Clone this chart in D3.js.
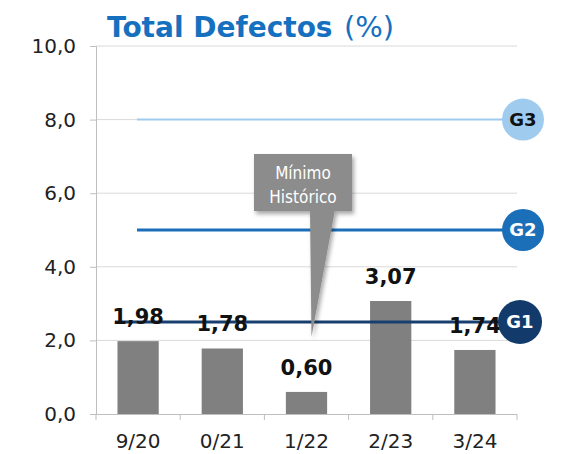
<!DOCTYPE html>
<html>
<head>
<meta charset="utf-8">
<script src="https://cdn.jsdelivr.net/npm/d3@7"></script>
<style>
  body { margin: 0; background: #fff; }
  svg { display: block; font-family: "DejaVu Sans", Verdana, sans-serif; }
</style>
</head>
<body>
<div id="chart"></div>
<script>
// chart values
var categories = ["9/20", "0/21", "1/22", "2/23", "3/24"];
var values = [1.98, 1.78, 0.60, 3.07, 1.74];
var yTicks = [0, 2, 4, 6, 8, 10];
var goalNames = ["G1", "G2", "G3"];
var goalValues = [2.5, 5.0, 8.0];
var calloutLines = ["Mínimo", "Histórico"];

var width = 561, height = 454;
var svg = d3.select('#chart').append('svg')
    .attr('width', width)
    .attr('height', height);

var locale = d3.formatLocale({decimal: ",", thousands: ".", grouping: [3], currency: ["", ""]});
var f1 = locale.format(".1f"), f2 = locale.format(".2f");

var x = d3.scaleBand().domain(categories).range([96, 517]).paddingInner(0.51).paddingOuter(0.255);
var y = d3.scaleLinear().domain([0, 10]).range([414, 46]);

// title
svg.append('text').attr('x', 107).attr('y', 37)
    .attr('font-size', 28).attr('font-weight', 'bold').attr('fill', '#1570c0')
    .text('Total Defectos');
svg.append('text').attr('x', 344).attr('y', 37)
    .attr('font-size', 29).attr('fill', '#1570c0')
    .text('(%)');

// gridlines
svg.append('g').selectAll('line').data(yTicks.slice(1)).enter().append('line')
    .attr('x1', 96).attr('x2', 517)
    .attr('y1', d => y(d)).attr('y2', d => y(d))
    .attr('stroke', '#d9d9d9').attr('stroke-width', 1);

// y axis
var yAxis = svg.append('g').attr('transform', 'translate(96,0)')
    .call(d3.axisLeft(y).tickValues(yTicks).tickFormat(f1).tickSize(6).tickPadding(14));
yAxis.select('.domain').attr('stroke', '#bfbfbf');
yAxis.selectAll('.tick line').attr('stroke', '#bfbfbf');
yAxis.selectAll('.tick text').attr('font-size', 20).attr('fill', '#222')
    .attr('font-family', '"DejaVu Sans", sans-serif');

// x axis
var xAxis = svg.append('g').attr('transform', 'translate(0,414)')
    .call(d3.axisBottom(x).tickSize(0).tickPadding(20));
xAxis.select('.domain').attr('stroke', '#bfbfbf').attr('d', 'M90,0.5H517');
xAxis.selectAll('.tick text').attr('font-size', 20).attr('fill', '#222')
    .attr('font-family', '"DejaVu Sans", sans-serif');
var step = x.step();
svg.append('g').selectAll('line').data(d3.range(categories.length + 1)).enter().append('line')
    .attr('x1', i => 96 + i * step).attr('x2', i => 96 + i * step)
    .attr('y1', 414).attr('y2', 420)
    .attr('stroke', '#bfbfbf');

// bars
svg.append('g').selectAll('rect').data(values).enter().append('rect')
    .attr('x', (d, i) => x(categories[i]))
    .attr('width', x.bandwidth())
    .attr('y', d => y(d))
    .attr('height', d => y(0) - y(d))
    .attr('fill', '#808080');

// goal lines
var goalColors = ['#173e6e', '#1a6fb8', '#9fcbef'];
var goalStart = [115, 137, 137];
var goalEnd = [500, 503, 503];
var goalWidth = [3, 3, 2];
svg.append('g').selectAll('line').data(goalValues).enter().append('line')
    .attr('x1', (d, i) => goalStart[i]).attr('x2', (d, i) => goalEnd[i])
    .attr('y1', d => y(d)).attr('y2', d => y(d))
    .attr('stroke', (d, i) => goalColors[i]).attr('stroke-width', (d, i) => goalWidth[i]);

// value labels
svg.append('g').selectAll('text').data(values).enter().append('text')
    .attr('x', (d, i) => x(categories[i]) + x.bandwidth() / 2)
    .attr('y', d => y(d) - 17)
    .attr('text-anchor', 'middle')
    .attr('font-size', 21).attr('font-weight', 'bold').attr('fill', '#111')
    .text(d => f2(d));

// callout
var defs = svg.append('defs');
var flt = defs.append('filter').attr('id', 'shadow').attr('x', '-20%').attr('y', '-20%').attr('width', '150%').attr('height', '150%');
flt.append('feDropShadow').attr('dx', 2).attr('dy', 3).attr('stdDeviation', 2).attr('flood-color', '#000').attr('flood-opacity', 0.35);
var tipX = x(categories[2]) + x.bandwidth() / 2 + 5;
var callout = svg.append('g').attr('filter', 'url(#shadow)');
callout.append('path')
    .attr('d', 'M310,210 L335,210 L' + tipX + ',' + y(2.1) + ' Z')
    .attr('fill', '#8c8c8c');
callout.append('rect')
    .attr('x', 254).attr('y', 154).attr('width', 98).attr('height', 57)
    .attr('fill', '#8c8c8c');
svg.append('g').selectAll('text').data(calloutLines).enter().append('text')
    .attr('x', 303).attr('y', (d, i) => 179 + i * 24)
    .attr('text-anchor', 'middle')
    .attr('font-size', 17).attr('fill', '#fff')
    .attr('font-family', '"DejaVu Sans Condensed", "DejaVu Sans", sans-serif')
    .text(d => d);

// goal badges
var badgeFill = ['#123b6b', '#1a6fb8', '#9fcbef'];
var badgeText = ['#fff', '#fff', '#111'];
var badgeX = [520, 523, 523];
var badgeR = [22, 21, 21];
var badges = svg.append('g').selectAll('g').data(goalValues).enter().append('g')
    .attr('transform', (d, i) => 'translate(' + badgeX[i] + ',' + y(d) + ')');
badges.append('circle').attr('r', (d, i) => badgeR[i]).attr('fill', (d, i) => badgeFill[i]);
badges.append('text')
    .attr('text-anchor', 'middle').attr('dy', '0.36em')
    .attr('font-size', 18).attr('font-weight', 'bold')
    .attr('fill', (d, i) => badgeText[i])
    .text((d, i) => goalNames[i]);
</script>
</body>
</html>
